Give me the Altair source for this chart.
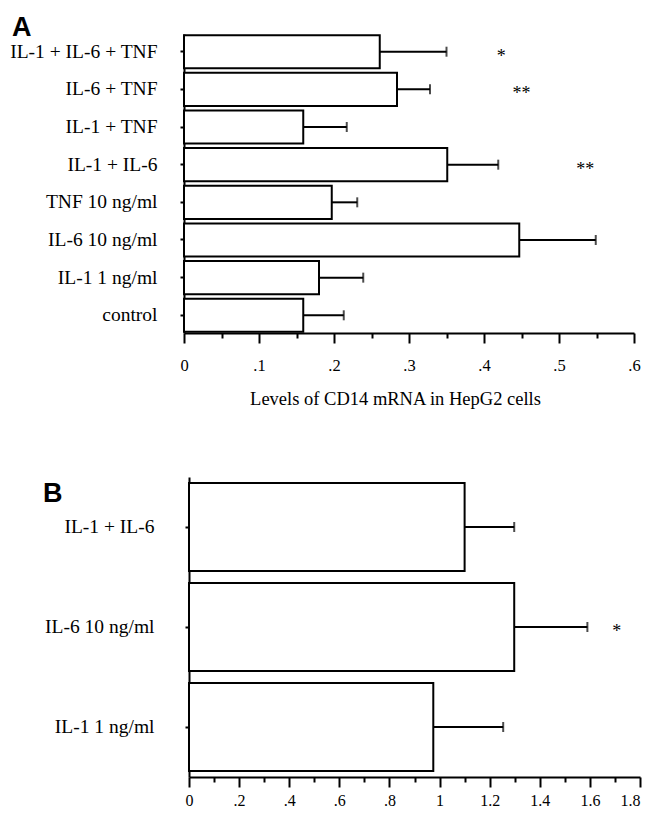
import altair as alt
import pandas as pd

# ---------------- Panel A data ----------------
a_categories = ["IL-1 + IL-6 + TNF", "IL-6 + TNF", "IL-1 + TNF", "IL-1 + IL-6",
                "TNF 10 ng/ml", "IL-6 10 ng/ml", "IL-1 1 ng/ml", "control"]
a_values = [0.261, 0.284, 0.159, 0.351, 0.197, 0.447, 0.180, 0.159]
a_errors = [0.089, 0.044, 0.058, 0.068, 0.034, 0.102, 0.059, 0.054]
a_star_categories = ["IL-1 + IL-6 + TNF", "IL-6 + TNF", "IL-1 + IL-6"]
a_star_text = ["*", "**", "**"]
a_star_x = [0.423, 0.450, 0.535]
a_major_ticks = [0, 0.1, 0.2, 0.3, 0.4, 0.5, 0.6]
a_tick_labels = ["0", ".1", ".2", ".3", ".4", ".5", ".6"]
a_minor_ticks = [0.05, 0.15, 0.25, 0.35, 0.45, 0.55]
a_x_title = "Levels of CD14 mRNA in HepG2 cells"

# ---------------- Panel B data ----------------
b_categories = ["IL-1 + IL-6", "IL-6 10 ng/ml", "IL-1 1 ng/ml"]
b_values = [1.100, 1.298, 0.975]
b_errors = [0.198, 0.292, 0.279]
b_star_categories = ["IL-6 10 ng/ml"]
b_star_text = ["*"]
b_star_x = [1.707]
b_major_ticks = [0, 0.2, 0.4, 0.6, 0.8, 1.0, 1.2, 1.4, 1.6, 1.8]
b_tick_labels = ["0", ".2", ".4", ".6", ".8", "1", "1.2", "1.4", "1.6", "1.8"]
b_minor_ticks = [0.1, 0.3, 0.5, 0.7, 0.9, 1.1, 1.3, 1.5, 1.7]

SERIF = "Liberation Serif"
SANS = "Liberation Sans"


def label_expr(ticks, labels):
    expr = "''"
    for t, l in reversed(list(zip(ticks, labels))):
        expr = f"abs(datum.value - {t}) < 1e-6 ? '{l}' : ({expr})"
    return expr


def panel(categories, values, errors, star_cats, star_text, star_x,
          major, labels, minor, domain, x_range, width, height, y_offset,
          pad_inner, pad_outer, label_size, label_padding, tick_label_size,
          tick_label_padding, x_title, title_x, letter, letter_x, letter_y,
          last_right=False):
    df = pd.DataFrame({"cat": categories, "value": values,
                       "hi": [v + e for v, e in zip(values, errors)]})
    stars = pd.DataFrame({"cat": star_cats, "x": star_x, "t": star_text})
    letter_df = pd.DataFrame({"letter": [letter]})

    xscale = alt.Scale(domain=domain, range=x_range, nice=False)
    yscale = alt.Scale(domain=categories, paddingInner=pad_inner, paddingOuter=pad_outer)
    y_axis = alt.Axis(title=None, offset=y_offset, tickSize=4, tickWidth=2,
                      domainWidth=2, domainColor="black", tickColor="black",
                      labelFont=SERIF, labelFontSize=label_size, labelColor="black",
                      labelPadding=label_padding)
    y_enc = alt.Y("cat:N", sort=categories, scale=yscale, axis=y_axis)

    major_kwargs = dict(orient="bottom", values=major, labelExpr=label_expr(major, labels),
                        tickSize=10, tickWidth=2, tickColor="black",
                        domainWidth=2, domainColor="black",
                        labelFont=SERIF, labelFontSize=tick_label_size, labelColor="black",
                        labelPadding=tick_label_padding, labelFlush=False, grid=False)
    if last_right:
        major_kwargs["labelAlign"] = {"expr": f"datum.value > {major[-1] - 0.01} ? 'right' : 'center'"}
    if x_title:
        major_kwargs.update(title=x_title, titleFont=SERIF, titleFontSize=18.5,
                            titleFontWeight="normal", titleColor="black",
                            titlePadding=16, titleX=title_x)
    else:
        major_kwargs.update(title=None)
    major_axis = alt.Axis(**major_kwargs)
    minor_axis = alt.Axis(orient="bottom", values=minor, labels=False, domain=False,
                          tickSize=5, tickWidth=2, tickColor="black", title=None, grid=False)

    bars = alt.Chart(df).mark_bar(fill="white", stroke="black", strokeWidth=2).encode(
        x=alt.X("value:Q", scale=xscale, axis=major_axis), y=y_enc)
    rule = alt.Chart(df).mark_rule(color="black", strokeWidth=2).encode(
        x=alt.X("value:Q", scale=xscale, axis=None), x2="hi:Q", y=y_enc)
    caps = alt.Chart(df).mark_tick(color="black", thickness=2, size=10).encode(
        x=alt.X("hi:Q", scale=xscale, axis=minor_axis), y=y_enc)
    star = alt.Chart(stars).mark_text(font=SERIF, fontSize=18, color="black",
                                      align="center", baseline="middle", dy=5).encode(
        x=alt.X("x:Q", scale=xscale, axis=None), y=y_enc, text="t:N")
    lett = alt.Chart(letter_df).mark_text(font=SANS, fontWeight="bold", fontSize=27,
                                          color="black", align="left", baseline="top").encode(
        x=alt.value(letter_x), y=alt.value(letter_y), text="letter:N")
    return alt.layer(bars, rule, caps, star, lett).resolve_axis(x="independent").properties(
        width=width, height=height)


chart_a = panel(a_categories, a_values, a_errors, a_star_categories, a_star_text, a_star_x,
                a_major_ticks, a_tick_labels, a_minor_ticks, [0, 0.6], [0, 450], 450, 299, 0,
                0.12, 0.03, 19.5, 23, 16.5, 14, a_x_title, 211, "A", -172, -19)
chart_b = panel(b_categories, b_values, b_errors, b_star_categories, b_star_text, b_star_x,
                b_major_ticks, b_tick_labels, b_minor_ticks, [0, 1.8], [5, 456], 456, 300, -5,
                0.12, 0.06, 19.5, 31, 16, 5, None, 0, "B", -141, 4, last_right=True)

chart = alt.vconcat(chart_a, chart_b, spacing=67).properties(
    padding={"left": 0, "top": 5, "right": 0, "bottom": 0}
).configure_view(stroke="transparent")

chart.save("out.html", embed_options={"renderer": "svg", "actions": False})
